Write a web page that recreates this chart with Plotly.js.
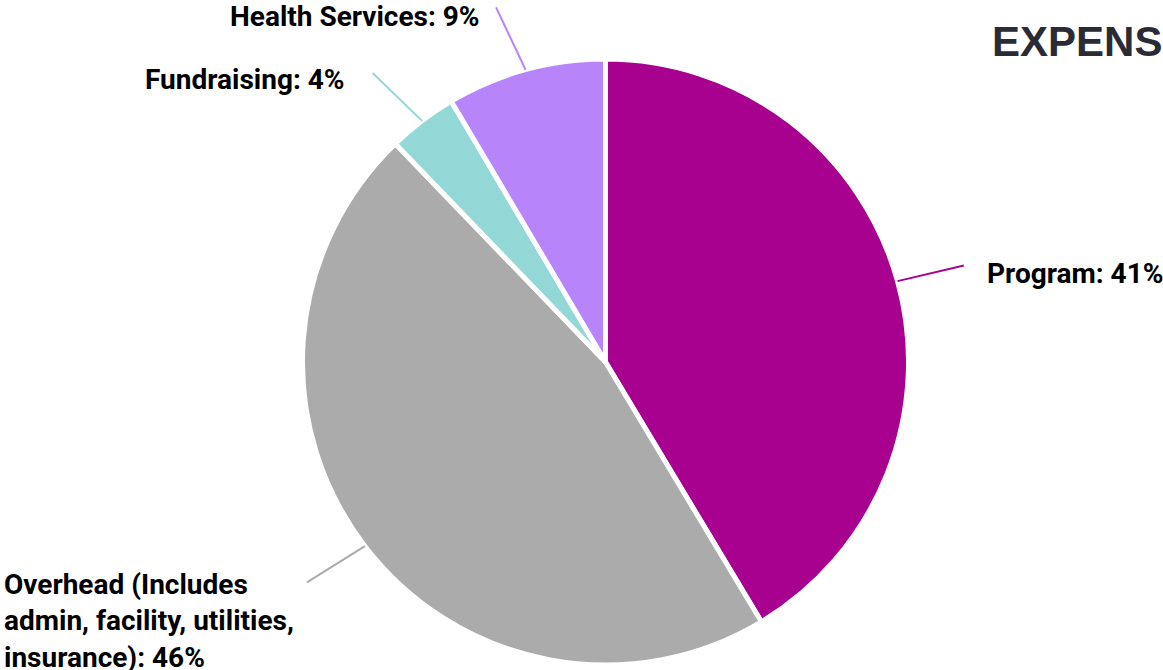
<!DOCTYPE html>
<html>
<head>
<meta charset="utf-8">
<script src="https://cdn.plot.ly/plotly-3.0.1.min.js"></script>
<style>
html,body{margin:0;padding:0;overflow:hidden;background:#fff;}
#chart{width:1163px;height:670px;}
</style>
</head>
<body>
<div id="chart"></div>
<script>
// ---- data ----
const categories = ["Program", "Overhead (Includes admin, facility, utilities, insurance)", "Fundraising", "Health Services"];
const displayLabels = ["Program", "Overhead (Includes<br>admin, facility, utilities,<br>insurance)", "Fundraising", "Health Services"];
const values = [41.4, 46.4, 3.7, 8.5];
const titleText = "EXPENSES";

// ---- style ----
const colors = ["#a8008f", "#ababab", "#94d7d7", "#b784fa"];
const labelAngleShift = [0.4, 1.0, -1.6, -1.85]; // degrees, leader line end tweak
const labelDx = [21, -11, -26, -14];
const labelDy = [8, -16, 7, 9];
const W = 1163, H = 670;
const domX = [302.5 / W, 908.5 / W];
const domY = [5 / H, 611 / H];

const cx = (domX[0] + domX[1]) / 2 * W;
const cy = H - (domY[0] + domY[1]) / 2 * H;
const R = Math.min((domX[1] - domX[0]) * W, (domY[1] - domY[0]) * H) / 2;

const total = values.reduce((a, b) => a + b, 0);
const shapes = [];
const annotations = [];
let cum = 0;
values.forEach((v, i) => {
  const mid = (cum + v / 2) / total * 360;
  cum += v;
  const a0 = mid * Math.PI / 180;
  const a1 = (mid + labelAngleShift[i]) * Math.PI / 180;
  const sx = cx + R * Math.sin(a0), sy = cy - R * Math.cos(a0);
  const ex = cx + R * 1.225 * Math.sin(a1), ey = cy - R * 1.225 * Math.cos(a1);
  shapes.push({
    type: "line", xref: "paper", yref: "paper",
    x0: sx / W, y0: 1 - sy / H, x1: ex / W, y1: 1 - ey / H,
    line: {color: colors[i], width: 2}
  });
  const right = Math.sin(a1) > 0;
  const txt = "<b>" + displayLabels[i] + ": " + Math.round(v) + "%</b>";
  const multi = displayLabels[i].indexOf("<br>") >= 0;
  annotations.push({
    xref: "paper", yref: "paper",
    x: (ex + labelDx[i]) / W,
    y: 1 - (ey + labelDy[i]) / H,
    xanchor: right ? "left" : "right",
    yanchor: multi ? "top" : "middle",
    align: "left",
    showarrow: false,
    text: txt,
    font: {family: "Roboto, sans-serif", size: 28, color: "#000"}
  });
});

annotations.push({
  xref: "paper", yref: "paper",
  x: 990 / W, y: 1 - 42 / H,
  xanchor: "left", yanchor: "middle",
  showarrow: false,
  text: "<b>" + titleText + "</b>",
  font: {family: "Liberation Sans, Arial, sans-serif", size: 42, color: "#2b2b36"}
});

const trace = {
  type: "pie",
  labels: categories,
  values: values,
  sort: false,
  direction: "clockwise",
  rotation: 0,
  textinfo: "none",
  hoverinfo: "label+percent",
  marker: {colors: colors, line: {color: "#ffffff", width: 5}},
  domain: {x: domX, y: domY},
  showlegend: false
};

Plotly.newPlot("chart", [trace], {
  width: W, height: H,
  margin: {l: 0, r: 0, t: 0, b: 0, pad: 0},
  paper_bgcolor: "#fff",
  plot_bgcolor: "#fff",
  showlegend: false,
  shapes: shapes,
  annotations: annotations
}, {displayModeBar: false, staticPlot: true});
</script>
</body>
</html>
